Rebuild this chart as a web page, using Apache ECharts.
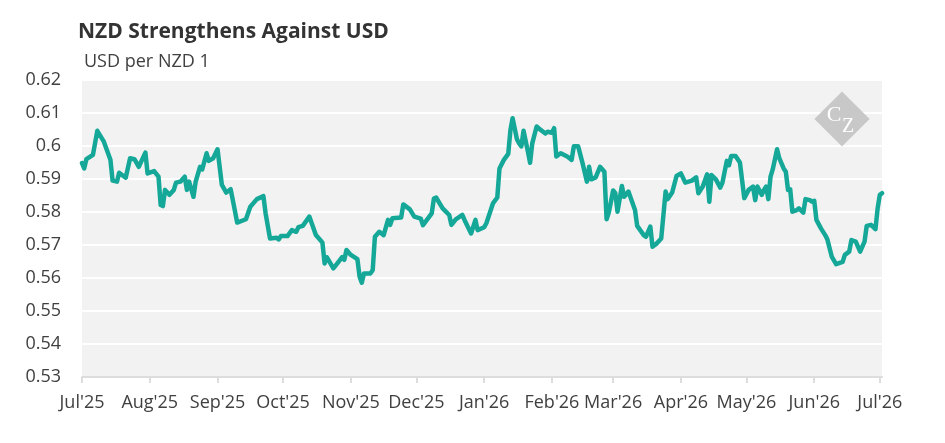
<!DOCTYPE html>
<html>
<head>
<meta charset="utf-8">
<title>NZD Strengthens Against USD</title>
<script src="https://cdn.jsdelivr.net/npm/echarts@6/dist/echarts.min.js"></script>
<style>
  html, body { margin: 0; padding: 0; background: #fff; }
  #chart { width: 945px; height: 443px; }
</style>
</head>
<body>
<div id="chart"></div>
<script>
// NZD/USD
const dates = [
  '2025-07-01', '2025-07-02', '2025-07-03', '2025-07-06', '2025-07-08', '2025-07-11', '2025-07-14', '2025-07-15',
  '2025-07-17', '2025-07-18', '2025-07-21', '2025-07-23', '2025-07-25', '2025-07-27', '2025-07-30', '2025-07-31',
  '2025-08-03', '2025-08-05', '2025-08-06', '2025-08-07', '2025-08-08', '2025-08-10', '2025-08-12', '2025-08-13',
  '2025-08-15', '2025-08-17', '2025-08-18', '2025-08-19', '2025-08-21', '2025-08-22', '2025-08-24', '2025-08-25',
  '2025-08-27', '2025-08-28', '2025-08-30', '2025-09-01', '2025-09-03', '2025-09-05', '2025-09-07', '2025-09-08',
  '2025-09-10', '2025-09-14', '2025-09-16', '2025-09-19', '2025-09-22', '2025-09-23', '2025-09-25', '2025-09-28',
  '2025-09-29', '2025-09-30', '2025-10-03', '2025-10-05', '2025-10-07', '2025-10-08', '2025-10-10', '2025-10-13',
  '2025-10-16', '2025-10-18', '2025-10-19', '2025-10-20', '2025-10-21', '2025-10-24', '2025-10-26', '2025-10-28',
  '2025-10-29', '2025-10-30', '2025-11-01', '2025-11-04', '2025-11-05', '2025-11-06', '2025-11-07', '2025-11-10',
  '2025-11-11', '2025-11-12', '2025-11-14', '2025-11-16', '2025-11-18', '2025-11-19', '2025-11-20', '2025-11-24',
  '2025-11-25', '2025-11-28', '2025-11-30', '2025-12-03', '2025-12-04', '2025-12-08', '2025-12-09', '2025-12-10',
  '2025-12-13', '2025-12-16', '2025-12-17', '2025-12-19', '2025-12-22', '2025-12-23', '2025-12-26', '2025-12-28',
  '2025-12-29', '2026-01-01', '2026-01-02', '2026-01-05', '2026-01-07', '2026-01-08', '2026-01-10', '2026-01-12',
  '2026-01-13', '2026-01-14', '2026-01-16', '2026-01-17', '2026-01-18', '2026-01-19', '2026-01-21', '2026-01-22',
  '2026-01-23', '2026-01-25', '2026-01-27', '2026-01-29', '2026-01-30', '2026-02-01', '2026-02-02', '2026-02-03',
  '2026-02-05', '2026-02-08', '2026-02-10', '2026-02-11', '2026-02-13', '2026-02-15', '2026-02-17', '2026-02-18',
  '2026-02-19', '2026-02-21', '2026-02-23', '2026-02-25', '2026-02-26', '2026-02-27', '2026-03-01', '2026-03-02',
  '2026-03-03', '2026-03-05', '2026-03-06', '2026-03-08', '2026-03-11', '2026-03-12', '2026-03-15', '2026-03-16',
  '2026-03-18', '2026-03-19', '2026-03-21', '2026-03-23', '2026-03-25', '2026-03-26', '2026-03-28', '2026-03-30',
  '2026-04-01', '2026-04-03', '2026-04-06', '2026-04-08', '2026-04-09', '2026-04-11', '2026-04-13', '2026-04-14',
  '2026-04-15', '2026-04-17', '2026-04-19', '2026-04-20', '2026-04-22', '2026-04-23', '2026-04-24', '2026-04-26',
  '2026-04-28', '2026-04-30', '2026-05-02', '2026-05-04', '2026-05-05', '2026-05-06', '2026-05-08', '2026-05-09',
  '2026-05-10', '2026-05-11', '2026-05-12', '2026-05-13', '2026-05-15', '2026-05-16', '2026-05-18', '2026-05-19',
  '2026-05-20', '2026-05-21', '2026-05-22', '2026-05-24', '2026-05-25', '2026-05-27', '2026-05-28', '2026-05-30',
  '2026-05-31', '2026-06-01', '2026-06-02', '2026-06-04', '2026-06-06', '2026-06-07', '2026-06-09', '2026-06-11',
  '2026-06-14', '2026-06-15', '2026-06-17', '2026-06-18', '2026-06-20', '2026-06-22', '2026-06-24', '2026-06-25',
  '2026-06-27', '2026-06-29', '2026-06-30', '2026-07-01', '2026-07-02'
];

const rates = [
  0.5948, 0.5932, 0.5960, 0.5973, 0.6046, 0.6013, 0.5958, 0.5895,
  0.5892, 0.5919, 0.5904, 0.5963, 0.5960, 0.5937, 0.5980, 0.5917,
  0.5924, 0.5907, 0.5821, 0.5818, 0.5867, 0.5852, 0.5867, 0.5889,
  0.5892, 0.5907, 0.5867, 0.5892, 0.5846, 0.5892, 0.5937, 0.5929,
  0.5978, 0.5955, 0.5963, 0.5990, 0.5882, 0.5859, 0.5869, 0.5836,
  0.5768, 0.5778, 0.5816, 0.5839, 0.5848, 0.5796, 0.5720, 0.5722,
  0.5717, 0.5727, 0.5727, 0.5745, 0.5740, 0.5754, 0.5758, 0.5786,
  0.5730, 0.5715, 0.5707, 0.5644, 0.5663, 0.5629, 0.5646, 0.5663,
  0.5655, 0.5685, 0.5670, 0.5657, 0.5604, 0.5586, 0.5614, 0.5614,
  0.5624, 0.5725, 0.5740, 0.5730, 0.5776, 0.5761, 0.5781, 0.5783,
  0.5823, 0.5808, 0.5786, 0.5780, 0.5760, 0.5796, 0.5841, 0.5844,
  0.5811, 0.5791, 0.5761, 0.5778, 0.5791, 0.5776, 0.5735, 0.5776,
  0.5745, 0.5754, 0.5766, 0.5826, 0.5844, 0.5932, 0.5958, 0.5976,
  0.6048, 0.6084, 0.6020, 0.6008, 0.5999, 0.6046, 0.5983, 0.5949,
  0.6008, 0.6059, 0.6048, 0.6038, 0.6043, 0.6040, 0.6054, 0.5968,
  0.5978, 0.5968, 0.5958, 0.5999, 0.5999, 0.5948, 0.5892, 0.5937,
  0.5899, 0.5905, 0.5937, 0.5922, 0.5778, 0.5798, 0.5865, 0.5857,
  0.5801, 0.5879, 0.5846, 0.5862, 0.5806, 0.5758, 0.5730, 0.5725,
  0.5756, 0.5695, 0.5705, 0.5720, 0.5862, 0.5839, 0.5859, 0.5909,
  0.5917, 0.5889, 0.5895, 0.5905, 0.5857, 0.5877, 0.5914, 0.5831,
  0.5912, 0.5899, 0.5874, 0.5889, 0.5955, 0.5942, 0.5970, 0.5970,
  0.5950, 0.5842, 0.5867, 0.5877, 0.5836, 0.5877, 0.5852, 0.5867,
  0.5877, 0.5839, 0.5907, 0.5929, 0.5990, 0.5963, 0.5932, 0.5922,
  0.5867, 0.5869, 0.5801, 0.5806, 0.5811, 0.5798, 0.5839, 0.5836,
  0.5831, 0.5834, 0.5776, 0.5751, 0.5730, 0.5717, 0.5665, 0.5642,
  0.5649, 0.5670, 0.5680, 0.5715, 0.5710, 0.5680, 0.5710, 0.5758,
  0.5761, 0.5748, 0.5811, 0.5852, 0.5857
];

const monthTicks = [
  '2025-07-01', '2025-08-01', '2025-09-01', '2025-10-01', '2025-11-01', '2025-12-01', '2026-01-01',
  '2026-02-01', '2026-03-01', '2026-04-01', '2026-05-01', '2026-06-01', '2026-07-01'
];
const monthLabels = [
  "Jul'25", "Aug'25", "Sep'25", "Oct'25", "Nov'25", "Dec'25", "Jan'26",
  "Feb'26", "Mar'26", "Apr'26", "May'26", "Jun'26", "Jul'26"
];

const yTicks = { min: 0.53, max: 0.62, step: 0.01 };

function toTime(s) {
  const p = s.split('-');
  return Date.UTC(+p[0], +p[1] - 1, +p[2]);
}

const tickTimes = monthTicks.map(toTime);
const seriesData = dates.map((d, i) => [toTime(d), rates[i]]);

const font = '"Open Sans", "Noto Sans", sans-serif';
const chart = echarts.init(document.getElementById('chart'), null, { renderer: 'canvas' });

const option = {
  animation: false,
  backgroundColor: '#ffffff',
  textStyle: { fontFamily: font },
  title: [
    {
      text: 'NZD Strengthens Against USD',
      left: 78,
      top: 22,
      padding: 0,
      textStyle: { fontFamily: font, fontSize: 21, fontWeight: 'bold', color: '#333333' }
    },
    {
      text: 'USD per NZD 1',
      left: 84,
      top: 53,
      padding: 0,
      textStyle: { fontFamily: font, fontSize: 18, fontWeight: 'normal', color: '#404040' }
    }
  ],
  grid: {
    left: 82,
    right: 63,
    top: 80,
    bottom: 66,
    show: true,
    backgroundColor: '#f2f2f2',
    borderWidth: 0
  },
  xAxis: {
    type: 'value',
    min: toTime('2025-07-01'),
    max: toTime('2026-07-02'),
    axisLine: { show: true, lineStyle: { color: '#dddddd', width: 2 } },
    axisTick: {
      show: true,
      customValues: tickTimes,
      length: 6,
      lineStyle: { color: '#dddddd', width: 2 }
    },
    axisLabel: {
      customValues: tickTimes,
      margin: 17,
      fontFamily: font,
      fontSize: 18,
      color: '#404040',
      formatter: function (value) {
        const i = tickTimes.indexOf(value);
        return i >= 0 ? monthLabels[i] : '';
      }
    },
    splitLine: { show: false }
  },
  yAxis: {
    type: 'value',
    min: yTicks.min,
    max: yTicks.max,
    interval: yTicks.step,
    axisLine: { show: false },
    axisTick: { show: false },
    axisLabel: {
      margin: 21,
      fontFamily: font,
      fontSize: 18,
      color: '#404040',
      formatter: function (v) { return String(+v.toFixed(2)); }
    },
    splitLine: { show: true, lineStyle: { color: '#ffffff', width: 2 } }
  },
  graphic: [
    {
      type: 'rect',
      x: 842,
      y: 119,
      rotation: Math.PI / 4,
      shape: { x: -19.5, y: -19.5, width: 39, height: 39 },
      style: { fill: '#c8c8c8' },
      silent: true,
      z: 10
    },
    {
      type: 'text',
      x: 834,
      y: 115,
      style: {
        text: 'C',
        fill: '#ffffff',
        font: '22px "Liberation Serif", "DejaVu Serif", serif',
        align: 'center',
        verticalAlign: 'middle'
      },
      silent: true,
      z: 11
    },
    {
      type: 'text',
      x: 848,
      y: 127,
      style: {
        text: 'Z',
        fill: '#ffffff',
        font: '20px "Liberation Serif", "DejaVu Serif", serif',
        align: 'center',
        verticalAlign: 'middle'
      },
      silent: true,
      z: 11
    }
  ],
  series: [
    {
      name: 'NZD/USD',
      type: 'line',
      data: seriesData,
      showSymbol: false,
      symbol: 'none',
      lineStyle: { color: '#15a898', width: 4.5, join: 'round', cap: 'round' },
      emphasis: { disabled: true },
      z: 5
    }
  ]
};

chart.setOption(option);
</script>
</body>
</html>
